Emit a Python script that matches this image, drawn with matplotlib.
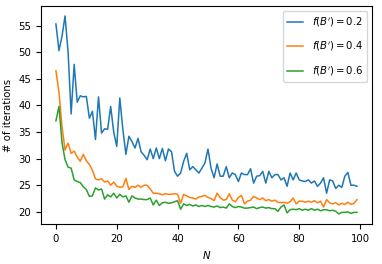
import matplotlib
matplotlib.use('Agg')
import matplotlib.pyplot as plt
import numpy as np

# iterations needed vs N, for three values of f(B')
n_vals = np.arange(100)

iters_02 = [55.3, 50.3, 53.0, 56.8, 50.0, 38.4, 47.7, 40.6, 41.8, 41.6,
            41.7, 37.6, 38.9, 33.6, 41.6, 34.8, 35.6, 35.5, 39.8, 35.0,
            32.3, 41.4, 35.5, 30.8, 34.2, 33.2, 32.0, 33.8, 31.3, 30.6,
            29.8, 31.8, 30.0, 32.0, 30.0, 31.9, 29.6, 31.8, 31.3, 27.6,
            26.7, 27.3, 29.5, 31.0, 27.9, 28.5, 27.9, 27.3, 28.2, 29.2,
            31.8, 28.2, 26.4, 29.0, 26.7, 26.7, 28.5, 26.4, 27.3, 27.0,
            25.7, 27.3, 27.0, 27.0, 28.1, 25.4, 26.7, 26.8, 27.6, 25.4,
            27.6, 26.4, 27.0, 27.0, 26.0, 26.4, 24.8, 27.3, 26.0, 27.3,
            26.0, 25.8, 25.7, 26.0, 25.4, 25.8, 24.8, 25.4, 26.4, 23.5,
            26.0, 25.8, 24.4, 25.0, 24.6, 26.7, 27.4, 25.0, 25.0, 24.8]

iters_04 = [46.5, 42.5, 36.0, 31.6, 32.9, 31.0, 31.4, 30.3, 29.5, 30.8,
            29.6, 28.9, 27.8, 26.2, 26.0, 26.2, 25.6, 25.8, 25.0, 25.6,
            24.8, 24.6, 24.7, 26.3, 24.2, 24.8, 24.6, 25.0, 24.6, 25.0,
            25.0, 24.3, 23.5, 23.5, 23.4, 23.2, 23.4, 23.3, 23.3, 23.4,
            23.3, 21.6, 23.3, 23.0, 22.7, 22.6, 22.4, 22.8, 22.9, 23.1,
            22.7, 22.5, 22.1, 23.5, 22.7, 22.2, 22.3, 23.4, 22.2, 21.9,
            22.7, 23.1, 21.5, 22.0, 22.2, 22.9, 22.6, 22.3, 22.6, 22.1,
            22.3, 22.0, 22.2, 21.8, 21.7, 21.8, 21.6, 21.9, 22.6, 21.5,
            22.0, 22.0, 21.8, 22.0, 21.8, 22.1, 21.7, 22.0, 20.9, 22.3,
            21.7, 21.5, 21.7, 21.3, 21.6, 21.4, 21.8, 21.4, 21.6, 22.3]

iters_06 = [37.1, 39.8, 33.0, 29.8, 28.4, 28.2, 26.0, 25.7, 25.5, 24.7,
            24.2, 22.9, 23.0, 24.5, 24.1, 24.3, 22.4, 23.2, 22.8, 23.5,
            22.6, 23.3, 22.8, 23.0, 21.8, 23.0, 22.6, 22.4, 22.4, 22.3,
            22.3, 22.6, 21.3, 22.2, 21.2, 21.7, 21.8, 21.6, 21.7, 21.9,
            22.1, 20.5, 21.5, 21.2, 21.4, 21.1, 21.3, 21.0, 21.2, 21.0,
            21.2, 21.0, 20.9, 21.1, 20.8, 20.9, 20.7, 21.5, 21.0, 20.8,
            21.0, 20.9, 20.7, 20.7, 20.8, 20.9, 20.6, 20.8, 20.9, 20.7,
            20.8, 20.6, 20.6, 20.1, 20.9, 21.3, 19.8, 20.4, 20.5, 20.4,
            20.6, 20.3, 20.5, 20.3, 20.6, 20.3, 20.5, 20.2, 20.4, 20.4,
            20.2, 20.3, 20.1, 19.6, 19.9, 19.9, 20.0, 19.7, 19.9, 19.9]

labels = [r"$f(B')=0.2$", r"$f(B')=0.4$", r"$f(B')=0.6$"]

plt.rcParams['font.size'] = 7.3

fig = plt.figure(figsize=(3.82, 2.64), dpi=100)
fig.subplots_adjust(left=0.107, right=0.974, top=0.977, bottom=0.152)
ax = fig.add_subplot(111)

for yy, lab in zip([iters_02, iters_04, iters_06], labels):
    ax.plot(n_vals, yy, lw=1.1, label=lab)

ax.set_xlabel('$N$')
ax.set_ylabel('# of iterations')
ax.set_yticks([20, 25, 30, 35, 40, 45, 50, 55])
ax.legend(loc='upper right', labelspacing=1.1, handlelength=1.6)

fig.savefig('out.png', dpi=100)
